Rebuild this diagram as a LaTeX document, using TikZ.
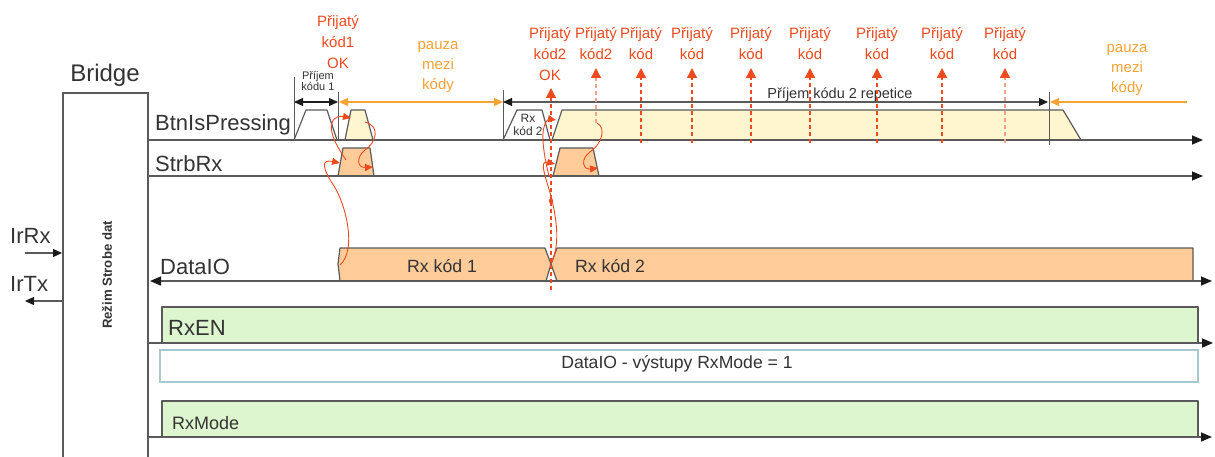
\documentclass[tikz,border=0pt]{standalone}
\usepackage{fontspec}
\setmainfont{Liberation Sans}
\usetikzlibrary{arrows.meta}
\definecolor{linegray}{HTML}{5A5A5A}
\definecolor{tipblack}{HTML}{1A1A1A}
\definecolor{redtxt}{HTML}{EC4A1F}
\definecolor{redlight}{HTML}{F6A08A}
\definecolor{orangetxt}{HTML}{F7A233}
\definecolor{orfill}{HTML}{FFCC99}
\definecolor{yelfill}{HTML}{FFF6CF}
\definecolor{grfill}{HTML}{DDF6CF}
\definecolor{blueedge}{HTML}{A9C9D0}
\definecolor{darktxt}{HTML}{333333}
\begin{document}
\begin{tikzpicture}[x=1pt,y=-1pt,
  axis/.style={draw=linegray, line width=1.5pt, -{Triangle[length=11pt,width=9pt,color=tipblack]}},
  axisboth/.style={draw=linegray, line width=1.5pt, {Triangle[length=11pt,width=9pt,color=tipblack]}-{Triangle[length=11pt,width=9pt,color=tipblack]}},
  pulse/.style={draw=linegray, line width=1.2pt, line join=round},
  marker/.style={draw=linegray, line width=1pt},
  span/.style={line width=1.1pt, {Triangle[length=9pt,width=8pt]}-{Triangle[length=9pt,width=8pt]}},
  cause/.style={draw=redtxt, line width=0.9pt, -{Triangle[length=8pt,width=7pt]}},
  recv/.style={draw=redtxt, line width=1.3pt, dash pattern=on 4pt off 3pt, -{Triangle[length=10pt,width=10pt,color=redtxt]}},
  recvlight/.style={recv, draw=redlight},
  biglbl/.style={inner sep=0, anchor=base west, text=darktxt, font=\fontsize{22}{24}\selectfont},
  redlbl/.style={inner sep=0, text=redtxt, align=center, font=\fontsize{15}{21}\selectfont},
  orlbl/.style={inner sep=0, text=orangetxt, align=center, font=\fontsize{15}{20}\selectfont},
  smalllbl/.style={inner sep=0, text=darktxt, align=center, font=\fontsize{11}{11.5}\selectfont}
]
\useasboundingbox (0,0) rectangle (1215,457);

% ---------- Bridge block ----------
\draw[marker, line width=1.3pt] (63,457) -- (63,93) -- (148,93) -- (148,457);
\node[inner sep=0, anchor=base, text=darktxt, font=\fontsize{24}{26}\selectfont] (bridge) at (105,82) {Bridge};
\node[inner sep=0, rotate=90, text=darktxt, font=\fontsize{13.2}{14}\selectfont\bfseries] (mode) at (107,275) {Režim Strobe dat};
\node[biglbl] (irrx) at (10,243) {IrRx};
\node[biglbl] (irtx) at (10,291) {IrTx};
\coordinate (irrxA) at (25,253);
\coordinate (irrxB) at (62,253);
\coordinate (irtxA) at (62,301);
\coordinate (irtxB) at (25,301);
\draw[line width=1.3pt, draw=linegray, -{Triangle[length=9pt,width=8pt,color=tipblack]}] (irrxA) -- (irrxB);
\draw[line width=1.3pt, draw=linegray, -{Triangle[length=9pt,width=8pt,color=tipblack]}] (irtxA) -- (irtxB);

% ---------- fills ----------
% BtnIsPressing pulses
\filldraw[pulse, fill=white] (294,140) -- (306,110) -- (327,110) -- (337,140);
\filldraw[pulse, fill=yelfill] (345,140) -- (351,110) -- (365,110) -- (373,140);
\filldraw[pulse, fill=white] (503,140) -- (517,110) -- (542,110) -- (550,140);
\filldraw[pulse, fill=yelfill] (552,140) -- (562,110) -- (1063,110) -- (1081,140);
% StrbRx pulses
\filldraw[pulse, fill=orfill] (338,176) -- (343,148) -- (370,148) -- (374,176);
\filldraw[pulse, fill=orfill] (553,176) -- (560,148) -- (593,148) -- (599,176);
% DataIO values
\filldraw[pulse, fill=orfill] (340,281) -- (338,264) -- (340,248) -- (545,248) -- (551,264) -- (546,281);
\filldraw[pulse, fill=orfill] (1193,281) -- (1193,248) -- (557,248) -- (551,264) -- (557,281);
% RxEN / info / RxMode
\filldraw[pulse, fill=grfill] (162,343) -- (162,307) -- (1198,307) -- (1198,343);
\draw[draw=blueedge, line width=1.4pt, fill=white] (160,350) rectangle (1198,382);
\filldraw[pulse, fill=grfill] (162,437) -- (162,401) -- (1198,401) -- (1198,437);

% ---------- signal axes ----------
\coordinate (btnS) at (148,140);  \coordinate (btnE) at (1203,140);
\coordinate (strS) at (148,176);  \coordinate (strE) at (1203,176);
\coordinate (datS) at (150,281);  \coordinate (datE) at (1212,281);
\coordinate (enS) at (148,343);   \coordinate (enE) at (1213,343);
\coordinate (mdS) at (148,437);   \coordinate (mdE) at (1212,437);
\draw[axis] (btnS) -- (btnE);
\draw[axis] (strS) -- (strE);
\draw[axisboth] (datS) -- (datE);
\draw[axis] (enS) -- (enE);
\draw[axis] (mdS) -- (mdE);

\node[biglbl] (lbtn) at (155,131) {BtnIsPressing};
\node[biglbl] (lstr) at (155,172) {StrbRx};
\node[biglbl] (ldat) at (160,274) {DataIO};
\node[biglbl] (len) at (168,335) {RxEN};
\node[biglbl, font=\fontsize{18}{20}\selectfont] (lmd) at (172,429) {RxMode};
\node[inner sep=0, anchor=base west, text=darktxt, font=\fontsize{17.7}{20}\selectfont] (rx1) at (407,272) {Rx kód 1};
\node[inner sep=0, anchor=base west, text=darktxt, font=\fontsize{17.7}{20}\selectfont] (rx2) at (575,272) {Rx kód 2};
\node[inner sep=0, anchor=base, text=darktxt, font=\fontsize{17.6}{20}\selectfont] (info) at (677,368) {DataIO - výstupy RxMode = 1};

% ---------- time markers ----------
\coordinate (m1t) at (294,77);   \coordinate (m1b) at (294,140);
\coordinate (m2t) at (338,92);   \coordinate (m2b) at (338,140);
\coordinate (m3t) at (503,90);   \coordinate (m3b) at (503,140);
\coordinate (m4t) at (1049,92);  \coordinate (m4b) at (1049,145);
\draw[marker] (m1t) -- (m1b);
\draw[marker] (m2t) -- (m2b);
\draw[marker] (m3t) -- (m3b);
\draw[marker] (m4t) -- (m4b);

\coordinate (s1a) at (294,102); \coordinate (s1b) at (338,102);
\coordinate (s2a) at (339,102); \coordinate (s2b) at (503,102);
\coordinate (s3a) at (503,102); \coordinate (s3b) at (1048,102);
\coordinate (s4a) at (1187,102); \coordinate (s4b) at (1050,102);
\draw[span, draw=tipblack, fill=tipblack] (s1a) -- (s1b);
\draw[span, draw=orangetxt, fill=orangetxt] (s2a) -- (s2b);
\draw[span, draw=linegray, {Triangle[length=9pt,width=8pt,color=tipblack]}-{Triangle[length=9pt,width=8pt,color=tipblack]}] (s3a) -- (s3b);
\draw[line width=1.1pt, draw=orangetxt, -{Triangle[length=9pt,width=8pt,color=orangetxt]}] (s4a) -- (s4b);

\node[smalllbl] (pk1) at (318,81) {Příjem\\kódu 1};
\node[smalllbl, font=\fontsize{12}{13.5}\selectfont] (rxk2) at (528,125) {Rx\\kód 2};
\node[inner sep=0, anchor=base, text=darktxt, font=\fontsize{14.5}{16}\selectfont] (rep) at (840,99) {Příjem kódu 2 repetice};
\node[orlbl] (pauza1) at (438,67) {pauza\\mezi\\kódy};
\node[orlbl] (pauza2) at (1127,70) {pauza\\mezi\\kódy};

% ---------- received-code labels ----------
\node[redlbl] (ok1) at (338,42) {Přijatý\\kód1\\OK};
\node[redlbl] (ok2) at (550,54) {Přijatý\\kód2\\OK};
\node[redlbl] (k2) at (596,44) {Přijatý\\kód2};
\foreach \x/\n in {641/ka,692/kb,751/kc,810/kd,877/ke,942/kf,1005/kg}{
  \node[redlbl] (\n) at (\x,44) {Přijatý\\kód};
}
\coordinate (okB) at (551,290); \coordinate (okT) at (551,88);
\draw[recv] (okB) -- (okT);
\coordinate (k2B) at (596,123); \coordinate (k2T) at (596,68);
\draw[recvlight] (k2B) -- (k2T);
\foreach \x in {641,692,751,810,877,942}{
  \draw[recv] (\x,143) -- (\x,68);
}
\draw[recvlight] (1005,143) -- (1005,68);
\fill[redtxt] (551,201) circle (2.2pt);

% ---------- causality curves ----------
\draw[cause] (340,265) .. controls (357,250) and (346,205) .. (334,186) .. controls (322,168) and (321,159) .. (340,163);
\draw[cause] (346,160) .. controls (338,148) and (329,134) .. (332,123) .. controls (334,116) and (341,116) .. (351,118);
\draw[cause] (365,122) .. controls (381,126) and (376,143) .. (365,150) .. controls (356,157) and (357,168) .. (373,167);
\draw[cause] (551,264) .. controls (560,245) and (557,222) .. (552,200) .. controls (547,180) and (538,160) .. (555,164);
\draw[cause] (549,176) .. controls (545,160) and (540,135) .. (545,124) .. controls (547,119) and (550,119) .. (556,120);
\draw[cause] (597,123) .. controls (607,128) and (601,145) .. (590,152) .. controls (580,159) and (583,170) .. (598,168);
\end{tikzpicture}
\end{document}
